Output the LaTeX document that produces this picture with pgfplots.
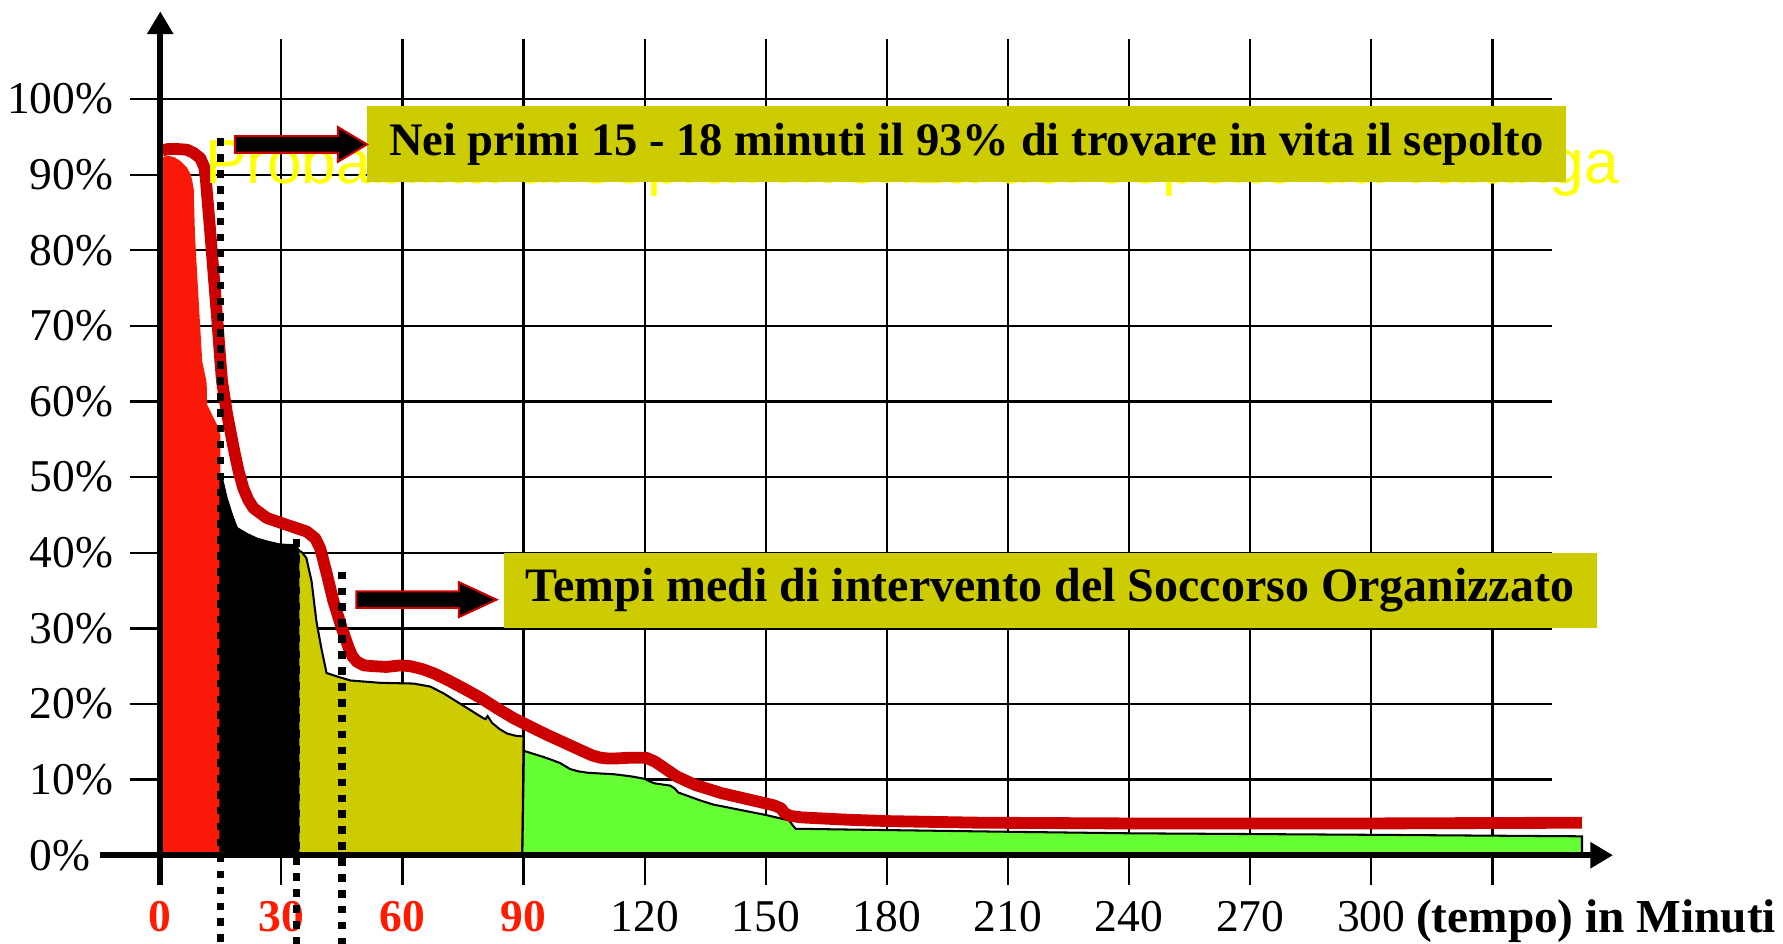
\documentclass[border=0pt]{standalone}
\usepackage{pgfplots}
\pgfplotsset{compat=1.18}
\usepackage{fontspec}
\setmainfont{Liberation Serif}
\newfontfamily\sansf{Liberation Sans}
\usetikzlibrary{arrows.meta}
\definecolor{fillred}{RGB}{250,25,8}
\definecolor{linered}{RGB}{204,0,0}
\definecolor{boxolive}{RGB}{204,204,0}
\definecolor{lgreen}{RGB}{102,255,51}
\definecolor{ylw}{RGB}{255,255,0}
\definecolor{tickred}{RGB}{255,26,0}
\begin{document}
\begin{tikzpicture}
\begin{axis}[
  x=1.775pt, y=3.325pt,
  xmin=-7.6, xmax=344.8, ymin=-3.9, ymax=107.9,
  axis line style={draw=none},
  clip=false,
  grid=major,
  major grid style={black, line width=1pt},
  xtick={0,30,...,330},
  ytick={0,10,...,100},
  tick style={draw=none},
  xticklabels={\textcolor{tickred}{\textbf{0}},\textcolor{tickred}{\textbf{30}},\textcolor{tickred}{\textbf{60}},\textcolor{tickred}{\textbf{90}},120,150,180,210,240,270,300,{}},
  yticklabels={0\%\hphantom{0},10\%,20\%,30\%,40\%,50\%,60\%,70\%,80\%,90\%,100\%},
  xticklabel style={anchor=north, inner sep=0pt, yshift=-7pt, font=\fontsize{20}{24}\selectfont},
  yticklabel style={anchor=east, inner sep=0pt, xshift=-7pt, font=\fontsize{20}{24}\selectfont},
]
% fills
\addplot[fill=fillred, draw=none] coordinates {(0,0)(0,92)(1,92.4)(2,92.5)(3.5,92.3)(5,91.8)(6.5,91)(7.4,90.2)(7.9,89.3)(8.3,88)(8.6,82)(9.5,73.5)(10.4,65.3)(11.5,62.5)(11.6,59.6)(14,57)(14.9,55.5)(14.9,0)} --cycle;
\addplot[fill=black, draw=black, line width=0.8pt] coordinates {(14.9,0)(14.9,50)(15.3,49.9)(16.5,47.2)(17.8,45)(19,43.3)(21.5,42.5)(23.9,41.9)(26.5,41.5)(29.7,41.1)(33.8,41.0)(34.2,40.4)(34.2,0)} --cycle;
\addplot[fill=boxolive, draw=black, line width=0.9pt] coordinates {(34.2,0)(34.2,40.4)(35.2,40)(36.2,39.3)(37.5,36.2)(38.1,33.5)(38.7,30.9)(39.9,27.4)(41.2,24.1)(44,23.6)(47.2,23.1)(54.5,22.8)(62.8,22.7)(66.9,22.3)(70.2,21.4)(73.5,20.3)(76.8,19.2)(80.1,18.1)(80.6,18.0)(81.1,18.4)(82.2,17.5)(84,16.7)(85.9,16.1)(88,15.8)(90,15.7)(89.7,0)} --cycle;
\addplot[fill=lgreen, draw=black, line width=0.9pt] coordinates {(89.7,0)(90.1,13.8)(92.5,13.4)(94.9,13)(97,12.6)(99,12.2)(101.5,11.4)(103.5,11.1)(106,10.9)(112.6,10.7)(117,10.4)(120,10.1)(121.5,9.7)(122.5,9.5)(126.4,9.2)(127.5,8.8)(128.3,8.3)(131.4,7.7)(134,7.2)(137,6.7)(143.6,6.0)(150.2,5.3)(155.8,4.6)(156.6,4.0)(157.4,3.5)(170,3.4)(210,3.1)(240,2.9)(300,2.7)(352.2,2.5)(352.2,0)} --cycle;
% survival curve
\addplot[linered, line width=5.2pt, line join=round, line cap=butt] coordinates {(0.5,93.2)(2,93.4)(4,93.4)(6.6,93.3)(8.2,92.9)(9.9,92.2)(10.9,91)(11.3,89.5)(11.5,88)(12.3,83)(13.2,77)(14.1,71)(14.9,65.3)(15.3,62.7)(16.5,58.5)(18.2,53.8)(19.4,50.8)(20.6,48.5)(21.8,47)(23.1,45.9)(26.4,44.6)(31.3,43.7)(36.3,42.8)(38.4,41.9)(39.6,40.6)(40.4,39)(41.3,37.1)(42.9,33.6)(45,30)(46.7,27.4)(47.6,26.3)(48.7,25.6)(50.5,25.1)(52.8,25)(56,24.9)(59.4,25.1)(62,25)(65,24.6)(68,24)(71.1,23.2)(75,22.1)(79.4,20.8)(83.5,19.4)(87.6,18.1)(91.7,17)(95.9,15.9)(100,14.9)(104.1,13.9)(107,13.2)(109,12.9)(110.7,12.8)(113,12.8)(116.5,12.9)(120.3,12.9)(122.5,12.4)(124.7,11.6)(128,10.4)(132.5,9.3)(139.1,8.2)(148,7.1)(152,6.6)(153.8,6.2)(154.6,5.6)(156,5.2)(159,5)(170,4.7)(181,4.5)(203,4.3)(240,4.2)(300,4.2)(352.2,4.3)};
% background title (mostly hidden)
\node[anchor=base west, inner sep=0pt, text=ylw, font=\sansf\fontsize{27.35}{32}\selectfont] at (axis cs:11,88.8) {Probabilità di sopravvivenza del sepolto da valanga};
% dotted lines
\addplot[black, line width=3.2pt, dash pattern=on 3.3pt off 3.7pt] coordinates {(14.9,94.8)(14.9,-11.73)};
\addplot[black, line width=3.2pt, dash pattern=on 3.3pt off 3.7pt] coordinates {(33.8,41.8)(33.8,-11.73)};
\addplot[black, line width=3.2pt, dash pattern=on 3.3pt off 3.7pt] coordinates {(45,37.5)(45,-11.73)};
% axes
\draw[line width=2.5pt, -{Triangle[length=10pt,width=11pt]}] (axis cs:-15,0) -- (axis cs:359.9,0);
\draw[line width=2.7pt, -{Triangle[length=10pt,width=11pt]}] (axis cs:0,-3.9) -- (axis cs:0,111.6);
% boxes
\fill[boxolive] (axis cs:51.3,89.0) rectangle (axis cs:348.2,99.1);
\node[font=\bfseries\fontsize{20.5}{24}\selectfont, inner sep=0pt] at (axis cs:199.7,94.0) {Nei primi 15 - 18 minuti il 93\% di trovare in vita il sepolto};
\fill[boxolive] (axis cs:85.1,30.1) rectangle (axis cs:355.8,40.0);
\node[font=\bfseries\fontsize{21.1}{24}\selectfont, inner sep=0pt] at (axis cs:220.4,35.0) {Tempi medi di intervento del Soccorso Organizzato};
% block arrows
\filldraw[fill=black, draw=linered, line width=0.9pt, line join=miter] (axis cs:18.5,92.9) -- (axis cs:44,92.9) -- (axis cs:44,91.7) -- (axis cs:51.2,94.0) -- (axis cs:44,96.3) -- (axis cs:44,95.1) -- (axis cs:18.5,95.1) -- cycle;
\filldraw[fill=black, draw=linered, line width=0.9pt, line join=miter] (axis cs:48.6,32.7) -- (axis cs:74,32.7) -- (axis cs:74,31.5) -- (axis cs:83.3,33.8) -- (axis cs:74,36.1) -- (axis cs:74,34.9) -- (axis cs:48.6,34.9) -- cycle;
% axis title
\node[anchor=base west, inner sep=0pt, font=\bfseries\fontsize{20.8}{24}\selectfont] at (axis cs:311,-10.2) {(tempo) in Minuti};
\coordinate (bbll) at (axis cs:-39.7,-11.73);
\coordinate (bbur) at (axis cs:402,113.1);
\end{axis}
\pgfresetboundingbox
\useasboundingbox (bbll) rectangle (bbur);
\end{tikzpicture}
\end{document}
